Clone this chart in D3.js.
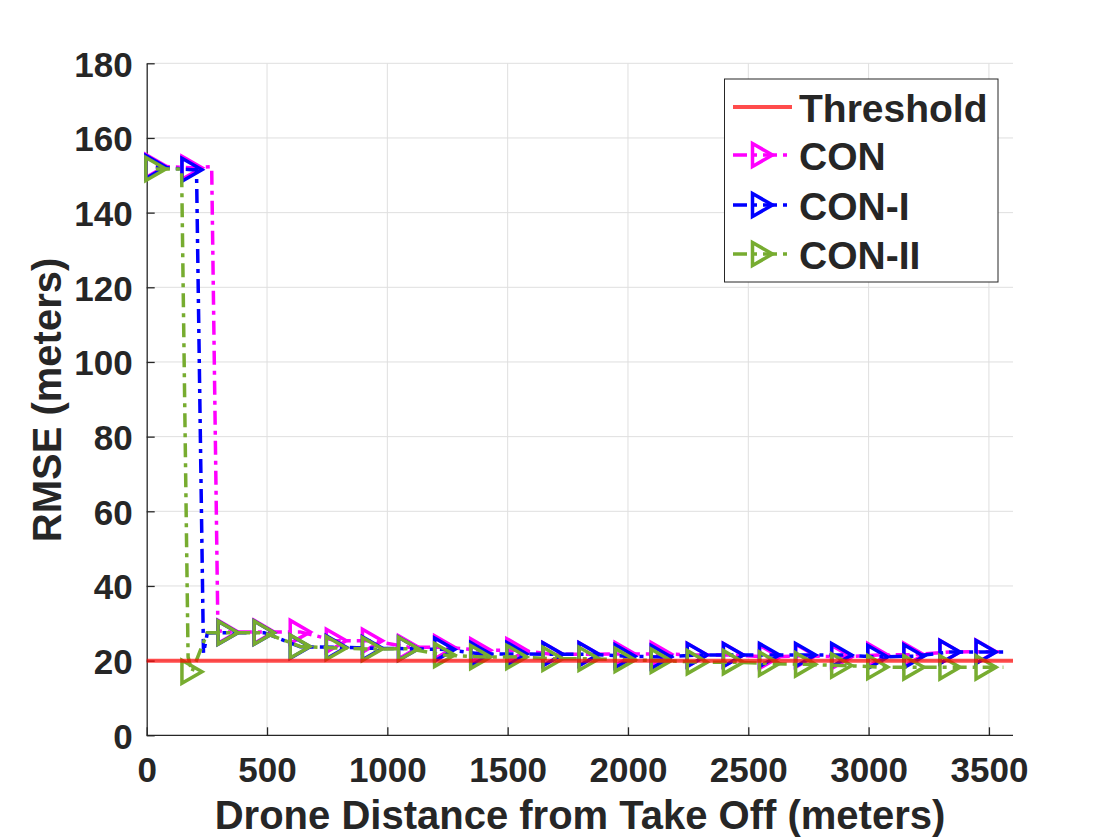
<!DOCTYPE html>
<html>
<head>
<meta charset="utf-8">
<script src="https://cdn.jsdelivr.net/npm/d3@7"></script>
<style>
  body { margin: 0; background: #fff; }
  text { font-family: "Liberation Sans", Arial, Helvetica, sans-serif; font-weight: bold; fill: #262626; }
</style>
</head>
<body>
<script>
var W = 1120, H = 840;

// data (x in meters, y = RMSE in meters); mk = 1 where a marker is drawn
var xTicks = [0, 500, 1000, 1500, 2000, 2500, 3000, 3500];
var yTicks = [0, 20, 40, 60, 80, 100, 120, 140, 160, 180];
var threshold = 20;

var conX  = [38, 188, 270, 296, 338, 488, 638, 788, 938, 1088, 1238, 1388, 1538, 1688, 1838, 1988, 2138, 2288, 2438, 2588, 2738, 2888, 3038, 3188, 3338, 3488, 3560];
var conY  = [152.5, 152, 152.3, 28, 27.7, 27.7, 27.7, 25.3, 25.3, 23.6, 23.6, 22.8, 22.8, 21.7, 21.7, 21.8, 21.8, 21.5, 21.5, 21.0, 21.3, 21.0, 21.5, 21.6, 22.3, 22.4, 22.4];
var conMk = [1, 1, 0, 0, 1, 1, 1, 1, 1, 1, 1, 1, 1, 1, 1, 1, 1, 1, 1, 1, 1, 1, 1, 1, 1, 1, 0];

var con1X  = [38, 188, 207, 236, 252, 338, 488, 638, 788, 938, 1088, 1238, 1388, 1538, 1688, 1838, 1988, 2138, 2288, 2438, 2588, 2738, 2888, 3038, 3188, 3338, 3488, 3560];
var con1Y  = [152.2, 151.5, 151.5, 22, 27.4, 27.5, 27.5, 23.7, 23.6, 23.3, 23.2, 23.0, 21.8, 21.8, 21.7, 21.7, 21.2, 21.0, 21.5, 21.5, 21.5, 21.5, 21.5, 21.0, 21.2, 22.3, 22.3, 22.3];
var con1Mk = [1, 1, 0, 0, 0, 1, 1, 1, 1, 1, 1, 1, 1, 1, 1, 1, 1, 1, 1, 1, 1, 1, 1, 1, 1, 1, 1, 0];

var con2X  = [38, 145, 172, 188, 252, 338, 488, 638, 788, 938, 1088, 1238, 1388, 1538, 1688, 1838, 1988, 2138, 2288, 2438, 2588, 2738, 2888, 3038, 3188, 3338, 3488, 3560];
var con2Y  = [151.7, 151.7, 21, 17, 27.5, 27.5, 27.5, 23.8, 23.4, 23.1, 23.2, 21.5, 21.0, 21.0, 20.5, 20.5, 20.2, 20.0, 19.6, 19.6, 19.2, 19.0, 18.7, 18.3, 18.2, 18.2, 18.2, 18.2];
var con2Mk = [1, 0, 0, 1, 0, 1, 1, 1, 1, 1, 1, 1, 1, 1, 1, 1, 1, 1, 1, 1, 1, 1, 1, 1, 1, 1, 1, 0];

var seriesNames  = ["CON", "CON-I", "CON-II"];
var seriesColors = ["#ff00ff", "#0000ff", "#77ac30"];

var svg = d3.select("body").append("svg")
    .attr("width", W)
    .attr("height", H);

svg.append("rect").attr("width", W).attr("height", H).attr("fill", "#fff");

var x = d3.scaleLinear().domain([0, 3600]).range([146.7, 1013]);
var y = d3.scaleLinear().domain([0, 180]).range([735.3, 63.3]);

// grid
svg.append("g").selectAll("line").data(xTicks.slice(1)).enter().append("line")
    .attr("x1", function(d) { return x(d); }).attr("x2", function(d) { return x(d); })
    .attr("y1", y(0)).attr("y2", y(180))
    .attr("stroke", "#dfdfdf").attr("stroke-width", 1);
svg.append("g").selectAll("line").data(yTicks.slice(1)).enter().append("line")
    .attr("x1", x(0)).attr("x2", x(3600))
    .attr("y1", function(d) { return y(d); }).attr("y2", function(d) { return y(d); })
    .attr("stroke", "#dfdfdf").attr("stroke-width", 1);

// axes (ticks point inward)
var xAxis = d3.axisBottom(x).tickValues(xTicks).tickFormat(d3.format("d")).tickSize(-8).tickSizeOuter(0);
var yAxis = d3.axisLeft(y).tickValues(yTicks).tickFormat(d3.format("d")).tickSize(-8).tickSizeOuter(0);

var gx = svg.append("g").attr("transform", "translate(0," + y(0) + ")").call(xAxis);
var gy = svg.append("g").attr("transform", "translate(" + x(0) + ",0)").call(yAxis);
[gx, gy].forEach(function(g) {
  g.select(".domain").attr("stroke", "#262626").attr("stroke-width", 1.3);
  g.selectAll(".tick line").attr("stroke", "#262626").attr("stroke-width", 1.3);
  g.selectAll(".tick text").attr("font-size", 35).attr("fill", "#262626")
    .attr("font-family", "Liberation Sans, Arial, sans-serif").attr("font-weight", "bold");
});
gx.select(".domain").attr("d", "M" + x(0) + ",0H" + x(3600));
gx.selectAll(".tick text").attr("dy", "0.71em").attr("y", 22);
gy.selectAll(".tick text").attr("dy", "0.37em").attr("x", -14);

// axis titles
svg.append("text")
    .attr("x", 580).attr("y", 829)
    .attr("text-anchor", "middle").attr("font-size", 40)
    .text("Drone Distance from Take Off (meters)");
svg.append("text")
    .attr("transform", "translate(61,400) rotate(-90)")
    .attr("text-anchor", "middle").attr("font-size", 40)
    .text("RMSE (meters)");

function tri(g) {
  return g.append("path").attr("d", "M-10,-11.5L10,0L-10,11.5Z")
    .attr("fill", "none").attr("stroke-width", 3.5).attr("stroke-linejoin", "miter");
}

var dash = "14,6,4,6";
var allX = [conX, con1X, con2X], allY = [conY, con1Y, con2Y], allMk = [conMk, con1Mk, con2Mk];

var line = d3.line()
    .x(function(d) { return x(d[0]); })
    .y(function(d) { return y(d[1]); });

for (var s = 0; s < 3; s++) {
  var pts = allX[s].map(function(v, i) { return [v, allY[s][i], allMk[s][i]]; });
  var g = svg.append("g");
  g.append("path")
    .attr("d", line(pts))
    .attr("fill", "none")
    .attr("stroke", seriesColors[s])
    .attr("stroke-width", 3.5)
    .attr("stroke-dasharray", dash);
  pts.filter(function(p) { return p[2] == 1; }).forEach(function(p) {
    var m = g.append("g").attr("transform", "translate(" + x(p[0]) + "," + y(p[1]) + ")");
    tri(m).attr("stroke", seriesColors[s]);
  });
}

// threshold on top
svg.append("line")
    .attr("x1", x(0)).attr("x2", x(3600))
    .attr("y1", y(threshold)).attr("y2", y(threshold))
    .attr("stroke", "#ff0000").attr("stroke-opacity", 0.7).attr("stroke-width", 4);

// legend
var leg = svg.append("g");
leg.append("rect").attr("x", 724.5).attr("y", 79).attr("width", 273.5).attr("height", 203)
    .attr("fill", "#fff").attr("stroke", "#262626").attr("stroke-width", 1);
var rows = [107, 155, 205, 254];
leg.append("line").attr("x1", 733).attr("x2", 792).attr("y1", rows[0]).attr("y2", rows[0])
    .attr("stroke", "#ff0000").attr("stroke-opacity", 0.7).attr("stroke-width", 4);
leg.append("text").attr("x", 799).attr("y", rows[0] + 14.5).attr("font-size", 39).attr("fill", "#000").text("Threshold");
for (var k = 0; k < 3; k++) {
  var ry = rows[k + 1];
  leg.append("line").attr("x1", 733).attr("x2", 792).attr("y1", ry).attr("y2", ry)
      .attr("stroke", seriesColors[k]).attr("stroke-width", 3.5).attr("stroke-dasharray", dash);
  var mg = leg.append("g").attr("transform", "translate(762.5," + ry + ")");
  tri(mg).attr("stroke", seriesColors[k]);
  leg.append("text").attr("x", 799).attr("y", ry + 14.5).attr("font-size", 39).attr("fill", "#000").text(seriesNames[k]);
}
</script>
</body>
</html>
